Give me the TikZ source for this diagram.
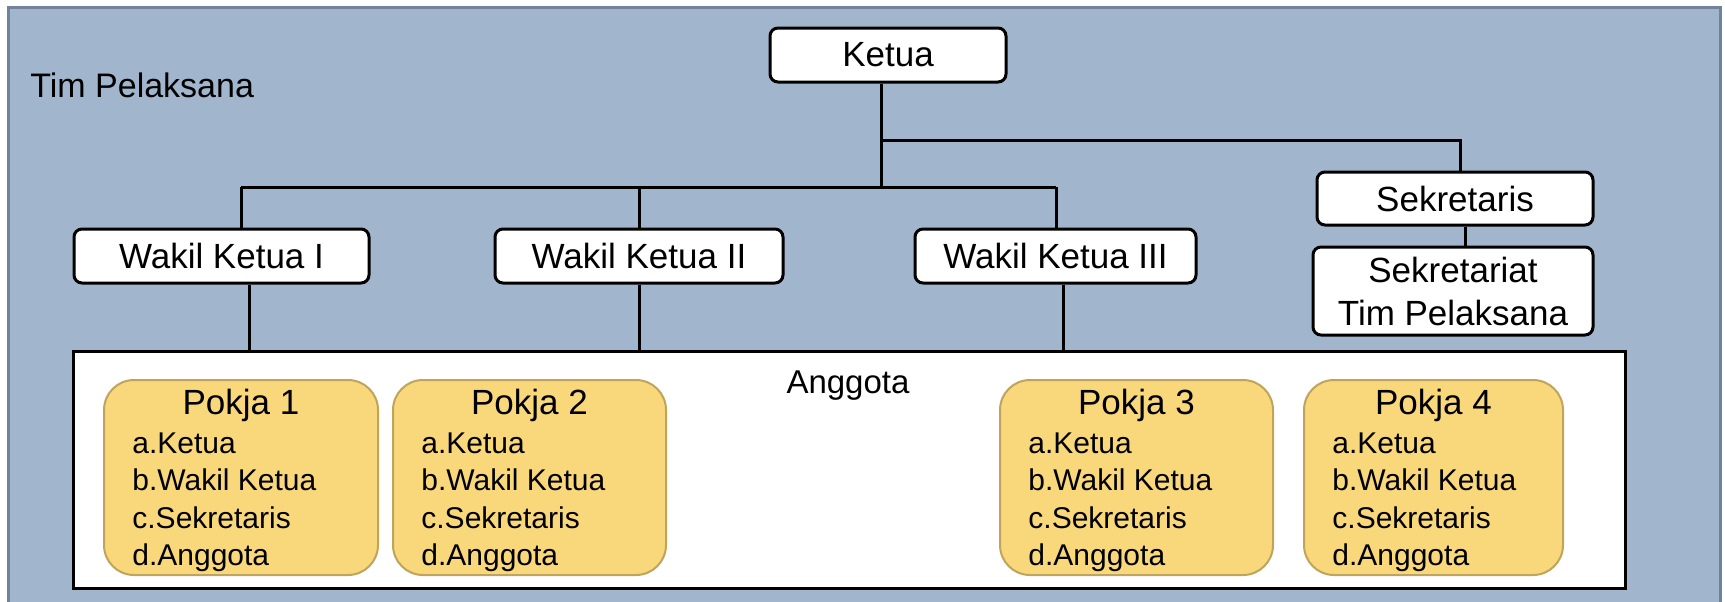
\documentclass[tikz,border=0pt]{standalone}
\usepackage{fontspec}
\setmainfont{Liberation Sans}
\usetikzlibrary{calc}

\definecolor{bgblue}{HTML}{A1B6CD}
\definecolor{bgedge}{HTML}{71839A}
\definecolor{pokjafill}{HTML}{F9D87B}
\definecolor{pokjaedge}{HTML}{BFA45C}

\begin{document}
\begin{tikzpicture}[x=0.5pt, y=-0.5pt,
  unit/.style={draw=black, line width=1.5pt, fill=white, rounded corners=4pt,
    inner sep=0pt, minimum height=27pt, font=\fontsize{17.5}{21.5}\selectfont},
  conn/.style={line width=1.5pt},
  pokja/.style={draw=pokjaedge, line width=1pt, fill=pokjafill,
    rounded corners=15pt, inner sep=0pt, minimum height=97.5pt},
  item/.style={anchor=base west, inner sep=0pt, font=\fontsize{15}{18}\selectfont}]
  \useasboundingbox (0,0) rectangle (1725,601);

  % the blue frame of the whole team
  \draw [bgedge, fill=bgblue, line width=1.5pt] (8,7) rectangle (1720,620);
  \node [anchor=base west, inner sep=0pt, font=\fontsize{17}{20}\selectfont]
    (timlabel) at (30,97) {Tim Pelaksana};

  % the units
  \node [unit, minimum width=118pt] (ketua) at (888,55) {Ketua};
  \node [unit, minimum width=147.5pt] (wk1) at (221.5,256) {Wakil Ketua I};
  \node [unit, minimum width=144pt] (wk2) at (639,256) {Wakil Ketua II};
  \node [unit, minimum width=140.5pt] (wk3) at (1055.5,256) {Wakil Ketua III};
  \node [unit, minimum width=138pt, minimum height=26.5pt] (sek) at (1455,198.5) {Sekretaris};
  \node [unit, minimum width=140pt, minimum height=44pt, align=center]
    (sekt) at (1453,291) {Sekretariat\\Tim Pelaksana};

  % the members box
  \node [draw, line width=1.5pt, fill=white, inner sep=0pt,
    minimum width=776pt, minimum height=118.5pt] (anggota) at (849,469.5) {};
  \node [font=\fontsize{16.5}{20}\selectfont] (anggotatitle) at (848,386) {Anggota};

  % the working groups
  \foreach \i/\cx/\w in {1/241/137pt, 2/529.5/136.5pt, 3/1136.5/136.5pt, 4/1433.5/129.5pt} {
    \node [pokja, minimum width=\w] (p\i) at (\cx,477.5) {};
    \node [anchor=base, inner sep=0pt, font=\fontsize{17.5}{20}\selectfont]
      (p\i-title) at ($ (p\i.north) + (0,35) $) {Pokja \i};
    \foreach \t [count=\k] in {a.Ketua, b.Wakil Ketua, c.Sekretaris, d.Anggota}
      \node [item] (p\i-\k) at ($ (p\i.north west) + (29,{74+37.5*(\k-1)}) $) {\t};
  }

  % connect the units
  \coordinate (busL) at (241,187);
  \coordinate (busR) at (1056,187);
  \coordinate (branch) at (0,140);
  \coordinate (top) at ([xshift=-3.5pt]ketua.south);
  \draw [conn] (top) -- (top |- busL);
  \draw [conn] (busL) -- (busR);
  \draw [conn] (busL) -- (busL |- wk1.north);
  \draw [conn] (wk2.north |- busL) -- (wk2.north);
  \draw [conn] (busR) -- (busR |- wk3.north);
  \draw [conn] (top |- branch) -| ([xshift=2.5pt]sek.north);
  \draw [conn] ([xshift=5pt]sek.south) -- ([xshift=5pt]sek.south |- sekt.north);

  % each deputy down to the members
  \draw [conn] ([xshift=14pt]wk1.south) -- ([xshift=14pt]wk1.south |- anggota.north);
  \draw [conn] (wk2.south) -- (wk2.south |- anggota.north);
  \draw [conn] ([xshift=4pt]wk3.south) -- ([xshift=4pt]wk3.south |- anggota.north);
\end{tikzpicture}
\end{document}
